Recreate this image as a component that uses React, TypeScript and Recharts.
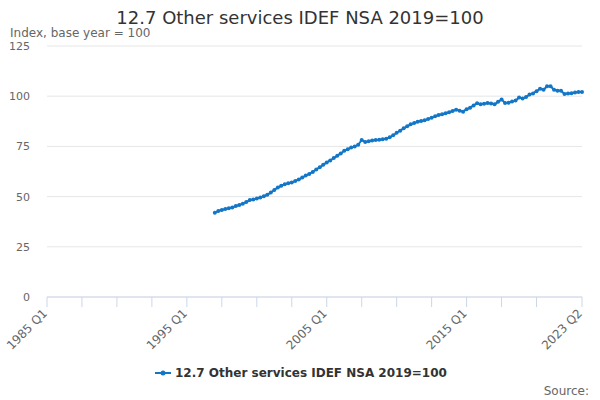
import React from "react";
import { LineChart, Line, XAxis, YAxis, CartesianGrid } from "recharts";

const seriesName = "12.7 Other services IDEF NSA 2019=100";
const firstYear = 1985;
const dataStartYear = 1997;

// quarterly index values, 1997 Q1 .. 2023 Q2
const values = [
  42.0, 42.8, 43.3, 43.8,
  44.2, 44.6, 45.3, 45.8,
  46.5, 47.3, 48.3, 48.6,
  49.0, 49.6, 50.2, 50.9,
  52.0, 53.3, 54.5, 55.4,
  56.2, 56.7, 57.0, 57.8,
  58.5, 59.5, 60.5, 61.3,
  62.3, 63.5, 64.6, 65.8,
  67.0, 68.0, 69.2, 70.3,
  71.5, 72.8, 73.6, 74.4,
  75.0, 75.8, 78.2, 77.2,
  77.6, 78.0, 78.2, 78.3,
  78.6, 78.8, 79.5, 80.5,
  81.8, 82.8, 84.0, 85.0,
  86.0, 86.6, 87.3, 87.6,
  88.0, 88.6, 89.3, 90.0,
  90.6, 91.0, 91.5, 92.0,
  92.6, 93.3, 92.8, 92.3,
  93.5, 94.2, 95.4, 96.5,
  96.0, 96.3, 96.6, 96.4,
  96.0, 97.2, 98.3, 96.6,
  96.8, 97.3, 97.8, 99.4,
  98.8, 99.6, 100.8, 101.4,
  102.5, 103.7, 103.2, 104.9,
  104.9, 103.2, 102.7, 102.7,
  101.1, 101.3, 101.5, 101.8,
  102.1, 102.1,
];

const xTicks = [0, 10, 20, 30, 40, 50, 60, 70, 80, 90, 100, 110, 120, 130, 140, 153];
const xLabels: Record<number, string> = {
  0: "1985 Q1",
  40: "1995 Q1",
  80: "2005 Q1",
  120: "2015 Q1",
  153: "2023 Q2",
};
const yTicks = [0, 25, 50, 75, 100, 125];

const offset = (dataStartYear - firstYear) * 4;
const data = Array.from({ length: offset + values.length }, (_, q) => ({
  q,
  label: `${firstYear + Math.floor(q / 4)} Q${(q % 4) + 1}`,
  value: q < offset ? null : values[q - offset],
}));

const blue = "#1476c6";
const font = "'DejaVu Sans', Verdana, sans-serif";

const XTick = (props: any) => {
  const { x, y, payload } = props;
  const text = xLabels[payload.value];
  if (!text) return null;
  return (
    <g transform={`translate(${x + 1},${y + 5})`}>
      <text textAnchor="end" transform="rotate(-45)" fontSize={12} fill="#666" fontFamily={font}>
        {text}
      </text>
    </g>
  );
};

export default function App() {
  return (
    <div style={{ position: "absolute", left: 0, top: 0, width: 600, height: 400, background: "#fff" }}>
      <LineChart
        width={600}
        height={400}
        data={data}
        margin={{ top: 46, right: 18, bottom: 73, left: 0 }}
        style={{ fontFamily: font }}
      >
        <CartesianGrid vertical={false} stroke="#e6e6e6" />
        <XAxis
          dataKey="q"
          type="number"
          domain={[0, 153]}
          ticks={xTicks}
          interval={0}
          height={30}
          tickSize={10}
          tickMargin={2}
          axisLine={{ stroke: "#ccd6eb" }}
          tickLine={{ stroke: "#ccd6eb" }}
          tick={<XTick />}
        />
        <YAxis
          domain={[0, 125]}
          ticks={yTicks}
          width={47}
          axisLine={false}
          tickLine={false}
          tickMargin={11}
          tick={{ fontSize: 11, fill: "#666" }}
        />
        <Line
          dataKey="value"
          name={seriesName}
          stroke={blue}
          strokeWidth={2}
          dot={{ r: 2, fill: blue, stroke: blue, strokeWidth: 0 }}
          isAnimationActive={false}
        />
      </LineChart>
      <svg
        width={600}
        height={400}
        style={{ position: "absolute", left: 0, top: 0, pointerEvents: "none", fontFamily: font }}
      >
        <text x={300} y={24} textAnchor="middle" fontSize={18} fill="#333">
          {seriesName}
        </text>
        <text x={10} y={37} fontSize={12} fill="#666">
          Index, base year = 100
        </text>
        <line x1={155} x2={171} y1={373} y2={373} stroke={blue} strokeWidth={2} />
        <circle cx={163} cy={373} r={2.5} fill={blue} />
        <text x={175} y={377} fontSize={12} fontWeight="bold" fill="#333">
          {seriesName}
        </text>
        <text x={589} y={395} textAnchor="end" fontSize={12} fill="#666">
          Source:
        </text>
      </svg>
    </div>
  );
}
